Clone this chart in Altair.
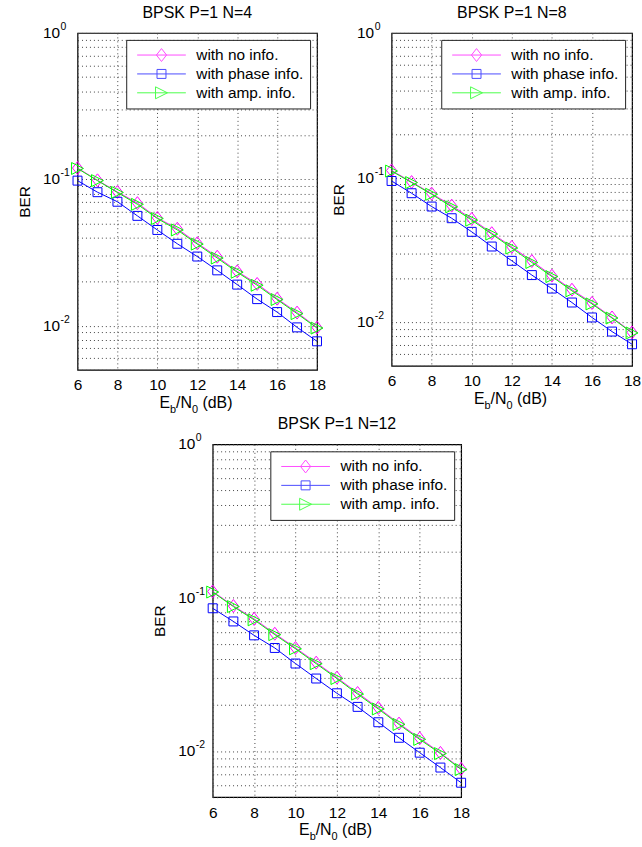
import altair as alt
import pandas as pd

FONT = "Liberation Sans"

EBN0 = [6, 7, 8, 9, 10, 11, 12, 13, 14, 15, 16, 17, 18]
SERIES = ["with no info.", "with phase info.", "with amp. info."]
COLORS = ["#ff00ff", "#0000ff", "#00ff00"]
TITLES = ["BPSK P=1 N=4", "BPSK P=1 N=8", "BPSK P=1 N=12"]

# N = 4
A_NO = [0.1195, 0.0985, 0.0820, 0.0688, 0.0545, 0.0460, 0.0366, 0.0296, 0.0235, 0.0193, 0.0153, 0.0123, 0.00972]
A_PHASE = [0.0980, 0.0817, 0.0703, 0.0563, 0.0451, 0.0363, 0.0297, 0.0239, 0.0191, 0.0152, 0.0124, 0.00975, 0.00783]
A_AMP = [0.1186, 0.0980, 0.0813, 0.0675, 0.0540, 0.0451, 0.0361, 0.0290, 0.0232, 0.0189, 0.0151, 0.0121, 0.00964]
# N = 8
B_NO = [0.1120, 0.0932, 0.0775, 0.0640, 0.0518, 0.0413, 0.0332, 0.0265, 0.0210, 0.0168, 0.0136, 0.0108, 0.00852]
B_PHASE = [0.0948, 0.0780, 0.0631, 0.0524, 0.0422, 0.0334, 0.0266, 0.0212, 0.0171, 0.0137, 0.0108, 0.00863, 0.00705]
B_AMP = [0.1110, 0.0924, 0.0767, 0.0628, 0.0508, 0.0407, 0.0326, 0.0259, 0.0207, 0.0165, 0.0134, 0.0107, 0.00844]
# N = 12
C_NO = [0.1098, 0.0883, 0.0727, 0.0582, 0.0470, 0.0377, 0.0301, 0.0239, 0.0191, 0.0151, 0.0121, 0.00972, 0.00765]
C_PHASE = [0.0853, 0.0700, 0.0568, 0.0470, 0.0372, 0.0297, 0.0238, 0.0194, 0.0154, 0.0122, 0.00975, 0.0078, 0.00621]
C_AMP = [0.1088, 0.0875, 0.0717, 0.0574, 0.0464, 0.0371, 0.0297, 0.0235, 0.0188, 0.0149, 0.0119, 0.00962, 0.00757]

X_TICKS = [6, 8, 10, 12, 14, 16, 18]
Y_GRID = [0.005, 0.006, 0.007, 0.008, 0.009,
          0.01, 0.02, 0.03, 0.04, 0.05, 0.06, 0.07, 0.08, 0.09,
          0.1, 0.2, 0.3, 0.4, 0.5, 0.6, 0.7, 0.8, 0.9, 1.0]
Y_LABEL_VALUES = [1.0, 0.1, 0.01]
Y_LABEL_BASE = ["10", "10", "10"]
Y_LABEL_EXP = ["0", "-1", "-2"]
Y_DOMAIN = [0.005, 1.0]
X_DOMAIN = [6, 18]

MARKERS = ["M0,-1L0.78,0L0,1L-0.78,0Z", "square", "M-1,-1L1,0L-1,1Z"]
MARKER_SIZES = [169, 81, 144]
LEGEND_SYMBOLS = [
    "M-1,0L1,0M0,-0.265L0.208,0L0,0.265L-0.208,0Z",
    "M-1,0L1,0M-0.184,-0.184L0.184,-0.184L0.184,0.184L-0.184,0.184Z",
    "M-1,0L1,0M-0.245,-0.245L0.245,0L-0.245,0.245Z",
]

# x-axis title pieces
XT_TEXT = ["E", "b", "/N", "0", "(dB)"]
XT_SIZE = [16, 11, 16, 11, 16]
XT_SHIFT = [0, 5, 0, 5, 0]
XT_GAP_EM = [0, 0, 0, 0, 0.278]
XT_WIDTH_EM = [0.667, 0.556, 1.000, 0.556, 2.055]

GRID_DASH = [1, 3]
GRID_COLOR = "#444444"

XAXIS = alt.Axis(values=X_TICKS, grid=True, gridDash=GRID_DASH, gridColor=GRID_COLOR,
                 gridWidth=1, ticks=False, domain=False,
                 labelFont=FONT, labelFontSize=15.5, labelColor="black", labelPadding=8,
                 labelOverlap=False, labelFlush=False, title=None)
YAXIS = alt.Axis(values=Y_GRID, grid=True, gridDash=GRID_DASH, gridColor=GRID_COLOR,
                 gridWidth=1, ticks=False, domain=False,
                 labels=False, title="BER", titleFont=FONT, titleFontSize=15.5,
                 titleFontWeight="normal", titleColor="black", titlePadding=45)


def panel(title, no, phase, amp, W, H):
    rows = []
    for s, vals in zip(SERIES, [no, phase, amp]):
        for x, v in zip(EBN0, vals):
            rows.append({"series": s, "ebn0": x, "ber": v})
    df = pd.DataFrame(rows)

    xs = alt.Scale(domain=X_DOMAIN, nice=False, zero=False)
    ys = alt.Scale(type="log", domain=Y_DOMAIN, nice=False)
    X = alt.X("ebn0:Q", scale=xs, axis=XAXIS)
    Y = alt.Y("ber:Q", scale=ys, axis=YAXIS)

    layers = []
    for s, col, mk, sz in zip(SERIES, COLORS, MARKERS, MARKER_SIZES):
        layers.append(
            alt.Chart(df).transform_filter(alt.datum.series == s)
            .mark_line(color=col, strokeWidth=1,
                       point=alt.OverlayMarkDef(filled=False, shape=mk, size=sz,
                                                color=col, strokeWidth=1))
            .encode(x=X, y=Y)
        )

    leg = alt.Legend(title=None, orient="top-right", offset=7, fillColor="white",
                     strokeColor="#222222", padding=6, cornerRadius=0,
                     labelFont=FONT, labelFontSize=15.5, labelColor="black",
                     symbolSize=2401, symbolStrokeWidth=1, symbolOffset=4.5,
                     labelOffset=10, clipHeight=18.5, rowPadding=0, labelLimit=300)
    legend_layer = (
        alt.Chart(df).transform_filter("false")
        .mark_point(filled=False, size=2401, strokeWidth=1)
        .encode(
            x=X, y=Y,
            color=alt.Color("series:N", scale=alt.Scale(domain=SERIES, range=COLORS), legend=leg),
            shape=alt.Shape("series:N", scale=alt.Scale(domain=SERIES, range=LEGEND_SYMBOLS), legend=leg),
        )
    )

    ylab = pd.DataFrame({"ber": Y_LABEL_VALUES, "base": Y_LABEL_BASE, "exp": Y_LABEL_EXP})
    ybase = alt.Chart(ylab).mark_text(align="right", baseline="middle", font=FONT,
                                      fontSize=15.5, color="black").encode(
        y=Y, x=alt.value(-17.5), text="base:N")
    yexp = alt.Chart(ylab).mark_text(align="left", baseline="alphabetic", font=FONT,
                                     fontSize=10.5, color="black", dy=-3).encode(
        y=Y, x=alt.value(-17), text="exp:N")

    widths = [w * s for w, s in zip(XT_WIDTH_EM, XT_SIZE)]
    gaps = [g * s for g, s in zip(XT_GAP_EM, XT_SIZE)]
    total = sum(widths) + sum(gaps)
    x0 = W / 2 - total / 2
    xt_layers = []
    for t, s, sh, w, g in zip(XT_TEXT, XT_SIZE, XT_SHIFT, widths, gaps):
        x0 += g
        xt_layers.append(
            alt.Chart(pd.DataFrame({"t": [t]})).mark_text(
                align="left", baseline="alphabetic", font=FONT, fontSize=s, color="black")
            .encode(x=alt.value(x0), y=alt.value(H + 38 + sh), text="t:N")
        )
        x0 += w

    return alt.layer(*layers, legend_layer, ybase, yexp, *xt_layers).properties(
        width=W, height=H,
        title=alt.TitleParams(title, font=FONT, fontSize=16, fontWeight="normal",
                              color="black", anchor="middle", frame="group", offset=1),
    )


pA = panel(TITLES[0], A_NO, A_PHASE, A_AMP, 241, 339)
pB = panel(TITLES[1], B_NO, B_PHASE, B_AMP, 242, 335)
pC = panel(TITLES[2], C_NO, C_PHASE, C_AMP, 250, 355)

spacer = alt.Chart(pd.DataFrame({"a": [0]})).mark_point(opacity=0).encode(
    x=alt.value(0), y=alt.value(0)).properties(
    width=136, height=10, view=alt.ViewBackground(stroke=None, fill="white"))

top = alt.concat(pA, pB, columns=2, spacing=75, bounds="flush", align="none").resolve_scale(
    color="independent", shape="independent")
bottom = alt.concat(spacer, pC, columns=2, spacing=0, bounds="flush", align="none").resolve_scale(
    color="independent", shape="independent")

chart = alt.vconcat(top, bottom, spacing=0).resolve_scale(
    color="independent", shape="independent").properties(
    padding={"left": 17, "top": 1.5, "right": 0, "bottom": 0},
    background="white",
).configure_view(stroke="black", strokeWidth=1.2)

chart.save("out.html", embed_options={"renderer": "svg", "actions": False})
